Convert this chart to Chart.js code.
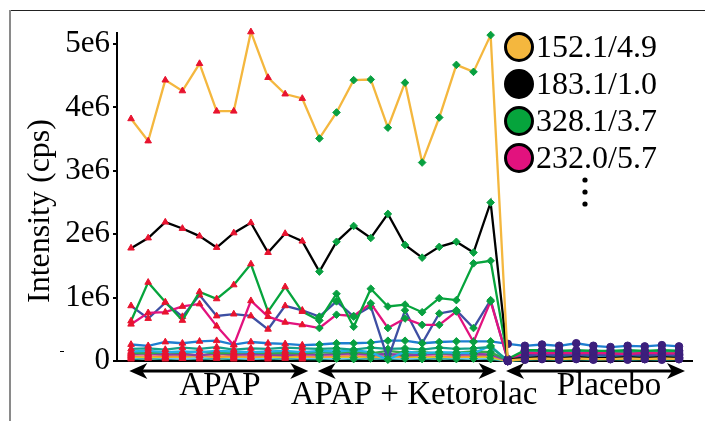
<!DOCTYPE html>
<html>
<head>
<meta charset="utf-8">
<script src="https://cdn.jsdelivr.net/npm/chart.js@4"></script>
<style>
html,body{margin:0;padding:0;background:#fff;}
canvas{display:block;}
</style>
</head>
<body>
<canvas id="c" width="705" height="421"></canvas>
<script>
// ---- data (intensity, cps) ----
const groupNames = ['APAP', 'APAP + Ketorolac', 'Placebo'];
const samplesPerGroup = 11;
const yTickValues = [0, 1e6, 2e6, 3e6, 4e6, 5e6];
const yTickLabels = ['0', '1e6', '2e6', '3e6', '4e6', '5e6'];
const legendLabels = ['152.1/4.9', '183.1/1.0', '328.1/3.7', '232.0/5.7'];

const s152 = [3.82e6,3.47e6,4.43e6,4.26e6,4.69e6,3.94e6,3.94e6,5.19e6,4.47e6,4.21e6,4.14e6,
  3.51e6,3.92e6,4.43e6,4.44e6,3.68e6,4.39e6,3.13e6,3.84e6,4.67e6,4.56e6,5.14e6,
  0.01e6,0.03e6,0.04e6,0.03e6,0.04e6,0.03e6,0.03e6,0.04e6,0.03e6,0.04e6,0.03e6];
const s183 = [1.78e6,1.94e6,2.19e6,2.09e6,1.97e6,1.79e6,2.02e6,2.18e6,1.71e6,2.01e6,1.89e6,
  1.41e6,1.88e6,2.13e6,1.94e6,2.32e6,1.83e6,1.63e6,1.80e6,1.88e6,1.71e6,2.50e6,
  0.02e6,0.05e6,0.06e6,0.05e6,0.06e6,0.05e6,0.05e6,0.06e6,0.05e6,0.06e6,0.05e6];
const s328 = [0.63e6,1.24e6,0.93e6,0.64e6,1.09e6,0.98e6,1.20e6,1.53e6,0.78e6,1.17e6,0.78e6,
  0.64e6,1.06e6,0.54e6,1.14e6,0.86e6,0.89e6,0.77e6,0.99e6,0.96e6,1.54e6,1.58e6,
  0.03e6,0.17e6,0.17e6,0.16e6,0.17e6,0.16e6,0.16e6,0.17e6,0.16e6,0.17e6,0.16e6];
const s232 = [0.58e6,0.76e6,0.77e6,0.86e6,0.90e6,0.55e6,0.25e6,0.95e6,0.70e6,0.61e6,0.57e6,
  0.52e6,0.73e6,0.71e6,0.91e6,0.52e6,0.67e6,0.57e6,0.57e6,0.78e6,0.30e6,0.94e6,
  0.02e6,0.13e6,0.12e6,0.13e6,0.12e6,0.13e6,0.12e6,0.11e6,0.13e6,0.12e6,0.12e6];
const sSlate = [0.87e6,0.67e6,0.92e6,0.70e6,1.04e6,0.71e6,0.74e6,0.71e6,0.50e6,0.87e6,0.80e6,
  0.70e6,0.94e6,0.70e6,0.86e6,0.03e6,0.80e6,0.28e6,0.75e6,0.80e6,0.52e6,0.96e6,
  0.01e6,0.10e6,0.09e6,0.10e6,0.09e6,0.10e6,0.09e6,0.10e6,0.09e6,0.10e6,0.09e6];
const sBlue = [0.26e6,0.24e6,0.30e6,0.28e6,0.31e6,0.32e6,0.26e6,0.30e6,0.28e6,0.27e6,0.25e6,
  0.26e6,0.28e6,0.28e6,0.29e6,0.32e6,0.32e6,0.28e6,0.30e6,0.31e6,0.31e6,0.31e6,
  0.27e6,0.24e6,0.26e6,0.24e6,0.28e6,0.24e6,0.22e6,0.24e6,0.23e6,0.25e6,0.23e6];
const sTeal = [0.19e6,0.20e6,0.18e6,0.21e6,0.19e6,0.22e6,0.18e6,0.20e6,0.19e6,0.21e6,0.20e6,
  0.19e6,0.20e6,0.18e6,0.21e6,0.19e6,0.20e6,0.18e6,0.21e6,0.19e6,0.20e6,0.22e6,
  0.01e6,0.16e6,0.15e6,0.16e6,0.15e6,0.16e6,0.15e6,0.16e6,0.15e6,0.16e6,0.16e6];
const sCyan = [0.15e6,0.16e6,0.14e6,0.15e6,0.14e6,0.16e6,0.15e6,0.14e6,0.15e6,0.16e6,0.14e6,
  0.16e6,0.15e6,0.17e6,0.14e6,0.02e6,0.15e6,0.12e6,0.14e6,0.13e6,0.12e6,0.24e6,
  0.00e6,0.07e6,0.06e6,0.07e6,0.06e6,0.07e6,0.06e6,0.07e6,0.06e6,0.07e6,0.06e6];
const sGreen2 = [0.13e6,0.12e6,0.14e6,0.13e6,0.15e6,0.12e6,0.13e6,0.14e6,0.12e6,0.13e6,0.12e6,
  0.14e6,0.13e6,0.15e6,0.12e6,0.16e6,0.13e6,0.14e6,0.12e6,0.13e6,0.15e6,0.14e6,
  0.01e6,0.14e6,0.14e6,0.13e6,0.14e6,0.13e6,0.14e6,0.13e6,0.14e6,0.13e6,0.14e6];
const sPurple = [0.11e6,0.12e6,0.10e6,0.11e6,0.09e6,0.12e6,0.10e6,0.11e6,0.10e6,0.09e6,0.11e6,
  0.10e6,0.11e6,0.12e6,0.10e6,0.11e6,0.09e6,0.10e6,0.12e6,0.10e6,0.11e6,0.10e6,
  0.01e6,0.10e6,0.11e6,0.10e6,0.11e6,0.10e6,0.10e6,0.11e6,0.10e6,0.11e6,0.10e6];
const sPink = [0.10e6,0.09e6,0.11e6,0.10e6,0.09e6,0.10e6,0.11e6,0.09e6,0.10e6,0.11e6,0.10e6,
  0.09e6,0.10e6,0.11e6,0.09e6,0.10e6,0.11e6,0.09e6,0.10e6,0.09e6,0.11e6,0.10e6,
  0.00e6,0.11e6,0.10e6,0.11e6,0.10e6,0.11e6,0.10e6,0.11e6,0.10e6,0.11e6,0.10e6];
const sOrange2 = [0.08e6,0.09e6,0.07e6,0.08e6,0.09e6,0.07e6,0.08e6,0.07e6,0.08e6,0.09e6,0.08e6,
  0.07e6,0.08e6,0.09e6,0.07e6,0.08e6,0.07e6,0.09e6,0.08e6,0.07e6,0.08e6,0.09e6,
  0.00e6,0.05e6,0.05e6,0.06e6,0.05e6,0.06e6,0.05e6,0.05e6,0.06e6,0.05e6,0.05e6];
const sYellow = [0.07e6,0.06e6,0.07e6,0.06e6,0.08e6,0.06e6,0.07e6,0.06e6,0.07e6,0.06e6,0.07e6,
  0.06e6,0.07e6,0.06e6,0.07e6,0.06e6,0.07e6,0.06e6,0.07e6,0.06e6,0.07e6,0.06e6,
  0.00e6,0.04e6,0.04e6,0.04e6,0.04e6,0.04e6,0.04e6,0.04e6,0.04e6,0.04e6,0.04e6];
const sSky = [0.05e6,0.06e6,0.05e6,0.04e6,0.05e6,0.06e6,0.05e6,0.04e6,0.05e6,0.06e6,0.05e6,
  0.05e6,0.04e6,0.05e6,0.06e6,0.05e6,0.04e6,0.05e6,0.06e6,0.05e6,0.04e6,0.05e6,
  0.00e6,0.08e6,0.08e6,0.09e6,0.08e6,0.08e6,0.09e6,0.08e6,0.08e6,0.09e6,0.08e6];
const sDarkTeal = [0.03e6,0.04e6,0.03e6,0.04e6,0.03e6,0.04e6,0.03e6,0.04e6,0.03e6,0.04e6,0.03e6,
  0.03e6,0.04e6,0.03e6,0.04e6,0.03e6,0.04e6,0.03e6,0.04e6,0.03e6,0.04e6,0.03e6,
  0.00e6,0.02e6,0.03e6,0.02e6,0.03e6,0.02e6,0.03e6,0.02e6,0.03e6,0.02e6,0.03e6];

const seriesList = [
  {label: legendLabels[0], color: '#F4B73E', values: s152},
  {label: legendLabels[1], color: '#000000', values: s183},
  {label: legendLabels[2], color: '#06A43C', values: s328},
  {label: legendLabels[3], color: '#E2127E', values: s232},
  {label: 'other 1', color: '#3E4FA3', values: sSlate},
  {label: 'other 2', color: '#1E7ED0', values: sBlue},
  {label: 'other 3', color: '#14A08A', values: sTeal},
  {label: 'other 4', color: '#22B2E8', values: sCyan},
  {label: 'other 5', color: '#36A84A', values: sGreen2},
  {label: 'other 6', color: '#8A3FA8', values: sPurple},
  {label: 'other 7', color: '#E879A8', values: sPink},
  {label: 'other 8', color: '#F5922F', values: sOrange2},
  {label: 'other 9', color: '#D6D024', values: sYellow},
  {label: 'other 10', color: '#74C6EE', values: sSky},
  {label: 'other 11', color: '#148C7A', values: sDarkTeal}
];

const groupMarker = [
  {style: 'triangle', color: '#E8132F'},
  {style: 'rectRot', color: '#08A040'},
  {style: 'circle', color: '#3C1F7C'}
];
const groupOf = i => Math.floor(i / samplesPerGroup);

const datasets = seriesList.map(s => ({
  label: s.label,
  data: s.values.map((v, i) => ({x: i, y: v})),
  borderColor: s.color,
  borderWidth: 2.3,
  fill: false,
  tension: 0,
  clip: false,
  pointStyle: ctx => groupMarker[groupOf(ctx.dataIndex)].style,
  pointBackgroundColor: ctx => groupMarker[groupOf(ctx.dataIndex)].color,
  pointBorderColor: ctx => groupMarker[groupOf(ctx.dataIndex)].color,
  pointBorderWidth: 1,
  pointRadius: 3.8
}));

const serif = "'Liberation Serif', 'Times New Roman', serif";

const decor = {
  id: 'decor',
  beforeDraw(chart) {
    const ctx = chart.ctx;
    ctx.save();
    ctx.fillStyle = '#fff';
    ctx.fillRect(0, 0, chart.width, chart.height);
    // frame
    ctx.strokeStyle = '#222';
    ctx.lineWidth = 1;
    ctx.beginPath(); ctx.moveTo(9, 10.5); ctx.lineTo(705, 10.5); ctx.stroke();
    ctx.strokeStyle = '#8a8a8a';
    ctx.lineWidth = 2;
    ctx.beginPath(); ctx.moveTo(10, 10); ctx.lineTo(10, 421); ctx.stroke();
    // stray dash
    ctx.strokeStyle = '#000'; ctx.lineWidth = 1;
    ctx.beginPath(); ctx.moveTo(60, 351.5); ctx.lineTo(64, 351.5); ctx.stroke();
    ctx.restore();
  },
  afterDraw(chart) {
    const ctx = chart.ctx;
    const xs = chart.scales.x;
    ctx.save();
    // axis title
    ctx.fillStyle = '#000';
    ctx.font = '32px ' + serif;
    ctx.textAlign = 'center';
    ctx.textBaseline = 'middle';
    ctx.translate(41, 211);
    ctx.rotate(-Math.PI / 2);
    ctx.fillText('Intensity (cps)', 0, 0);
    ctx.restore();

    // legend
    ctx.save();
    const legY = [47, 84, 121, 158];
    for (let i = 0; i < legendLabels.length; i++) {
      const ds = chart.data.datasets[i];
      ctx.beginPath();
      ctx.arc(519, legY[i], 13.5, 0, Math.PI * 2);
      ctx.fillStyle = ds.borderColor;
      ctx.fill();
      ctx.lineWidth = 3;
      ctx.strokeStyle = '#000';
      ctx.stroke();
      ctx.fillStyle = '#000';
      ctx.font = '32px ' + serif;
      ctx.textAlign = 'left';
      ctx.textBaseline = 'middle';
      ctx.fillText(ds.label, 536, legY[i] + 2);
    }
    [180, 192, 204].forEach(y => {
      ctx.beginPath(); ctx.arc(585, y, 2.6, 0, Math.PI * 2); ctx.fillStyle = '#000'; ctx.fill();
    });
    ctx.restore();

    // group arrows and labels
    ctx.save();
    const arrowY = 371;
    const labelBase = [395, 404, 395];
    const labelX = [220, 414, 609];
    groupNames.forEach((name, g) => {
      const i0 = g * samplesPerGroup;
      const i1 = i0 + samplesPerGroup - 1;
      const xa = xs.getPixelForValue(i0 - 0.1);
      const xb = xs.getPixelForValue(i1 + 0.35);
      ctx.strokeStyle = '#000';
      ctx.fillStyle = '#000';
      ctx.lineWidth = 3;
      ctx.beginPath(); ctx.moveTo(xa + 10, arrowY); ctx.lineTo(xb - 10, arrowY); ctx.stroke();
      const head = (tip, dir) => {
        ctx.beginPath();
        ctx.moveTo(tip, arrowY);
        ctx.lineTo(tip + dir * 18, arrowY - 8);
        ctx.lineTo(tip + dir * 13, arrowY);
        ctx.lineTo(tip + dir * 18, arrowY + 8);
        ctx.closePath();
        ctx.fill();
      };
      head(xa, 1);
      head(xb, -1);
      ctx.font = '33px ' + serif;
      ctx.textAlign = 'center';
      ctx.textBaseline = 'alphabetic';
      ctx.fillText(name, labelX[g], labelBase[g]);
    });
    ctx.restore();
  }
};

new Chart(document.getElementById('c'), {
  type: 'line',
  data: {datasets},
  plugins: [decor],
  options: {
    responsive: false,
    animation: false,
    devicePixelRatio: 1,
    layout: {padding: {top: 33, right: 13, left: 0, bottom: 0}},
    plugins: {legend: {display: false}, tooltip: {enabled: false}, title: {display: false}},
    scales: {
      x: {
        type: 'linear',
        min: -0.82,
        max: 32.76,
        ticks: {display: false},
        grid: {display: false},
        border: {display: true, color: '#000', width: 2},
        afterFit(s) { s.height = 60; }
      },
      y: {
        type: 'linear',
        min: 0,
        max: 5.173e6,
        afterBuildTicks(s) { s.ticks = yTickValues.map(v => ({value: v})); },
        ticks: {
          callback: (v) => yTickLabels[yTickValues.indexOf(v)],
          color: '#000',
          font: {family: serif, size: 31},
          padding: 3
        },
        grid: {display: true, drawOnChartArea: false, drawTicks: true, tickLength: 4, color: '#000', lineWidth: 2},
        border: {display: true, color: '#000', width: 2},
        afterFit(s) { s.width = 117; }
      }
    }
  }
});
</script>
</body>
</html>
